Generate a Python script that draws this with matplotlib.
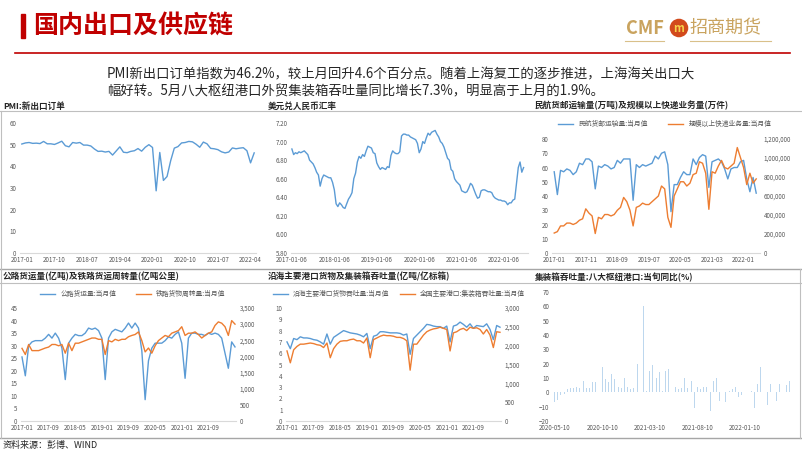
import numpy as np
import matplotlib
matplotlib.use('Agg')
import matplotlib.pyplot as plt
from matplotlib.lines import Line2D
from matplotlib.ticker import FuncFormatter

plt.rcParams['font.family'] = ['Noto Sans CJK SC', 'DejaVu Sans']

BLUE = '#5b9bd5'
ORANGE = '#ed7d31'
TICK = '#595959'

# ---- data ----
# PMI new export orders, monthly 2017-01 .. 2022-05
pmi_ticks = ['2017-01', '2017-10', '2018-07', '2019-04', '2020-01', '2020-10', '2021-07', '2022-04']
pmi = [50.3, 50.8, 51.0, 50.6, 50.7, 50.5, 51.5, 50.4, 50.4, 50.1, 50.8, 51.6,
       49.5, 49.0, 51.0, 50.7, 51.0, 49.8, 49.8, 49.4, 48.0, 46.9, 47.0, 46.6,
       46.9, 45.2, 47.1, 49.0, 46.5, 46.3, 46.9, 47.2, 48.2, 47.0, 48.8, 50.0,
       48.7, 28.7, 46.4, 33.5, 35.3, 42.6, 48.4, 49.1, 50.8, 51.0, 51.5, 51.3,
       50.2, 48.8, 51.2, 50.4, 48.3, 48.1, 47.7, 46.7, 46.2, 46.6, 48.5, 48.1,
       48.4, 48.6, 47.2, 41.6, 46.2]

# USD/CNY, roughly twice a month from 2017-01-06
fx_ticks = ['2017-01-06', '2018-01-06', '2019-01-06', '2020-01-06', '2021-01-06', '2022-01-06']
usdcny = [6.92, 6.86, 6.88, 6.87, 6.89, 6.88, 6.89, 6.90, 6.88, 6.86, 6.80, 6.78,
          6.76, 6.72, 6.67, 6.64, 6.52, 6.60, 6.64, 6.63, 6.62, 6.61, 6.61, 6.56,
          6.48, 6.33, 6.30, 6.34, 6.32, 6.29, 6.28, 6.33, 6.38, 6.41, 6.45, 6.60,
          6.66, 6.78, 6.84, 6.82, 6.86, 6.84, 6.90, 6.95, 6.94, 6.93, 6.88, 6.87,
          6.77, 6.73, 6.70, 6.72, 6.71, 6.70, 6.73, 6.72, 6.85, 6.90, 6.88, 6.87,
          6.87, 6.89, 7.06, 7.08, 7.08, 7.07, 7.07, 7.05, 7.04, 7.03, 7.02, 6.98,
          6.88, 6.92, 7.00, 6.98, 7.04, 7.09, 7.07, 7.10, 7.11, 7.12, 7.08, 7.05,
          7.00, 6.98, 6.94, 6.88, 6.82, 6.80, 6.70, 6.68, 6.60, 6.57, 6.55, 6.53,
          6.47, 6.46, 6.45, 6.46, 6.50, 6.55, 6.53, 6.48, 6.43, 6.39, 6.40, 6.47,
          6.48, 6.48, 6.47, 6.46, 6.46, 6.45, 6.41, 6.39, 6.38, 6.37, 6.37, 6.36,
          6.36, 6.35, 6.32, 6.34, 6.34, 6.37, 6.38, 6.55, 6.72, 6.78, 6.67, 6.72]

# civil aviation cargo (万吨) and express parcels (万件), monthly 2017-01 .. 2022-05
air_ticks = ['2017-01', '2017-11', '2018-09', '2019-07', '2020-05', '2021-03', '2022-01']
air_cargo = [57, 41, 58, 57, 59, 58, 55, 57, 63, 62, 66, 66,
             64, 45, 61, 60, 62, 61, 59, 60, 65, 63, 66, 66,
             66, 37, 62, 60, 62, 61, 62, 63, 68, 66, 70, 71,
             62, 29, 48, 48, 53, 57, 55, 55, 66, 62, 67, 69,
             68, 46, 64, 65, 66, 64, 59, 52, 59, 60, 60, 64,
             65, 52, 43, 53, 42]
express = [210000, 225000, 285000, 285000, 315000, 315000, 300000, 315000, 345000, 360000, 465000, 420000,
           390000, 205000, 375000, 360000, 405000, 405000, 390000, 405000, 450000, 480000, 585000, 540000,
           450000, 285000, 480000, 495000, 525000, 510000, 510000, 540000, 570000, 600000, 705000, 675000,
           375000, 270000, 600000, 675000, 750000, 750000, 705000, 735000, 825000, 840000, 960000, 945000,
           840000, 460000, 855000, 840000, 915000, 975000, 900000, 885000, 915000, 945000, 1110000, 1005000,
           900000, 720000, 840000, 735000, 780000]

# highway freight (亿吨) and rail freight turnover (亿吨公里), monthly 2017-01 .. 2022-05
road_ticks = ['2017-01', '2017-09', '2018-05', '2019-01', '2019-09', '2020-05', '2021-01', '2021-09']
road = [25.5, 18.0, 30.0, 31.5, 32.0, 32.0, 32.0, 33.0, 34.5, 33.0, 35.0, 33.0,
        29.0, 16.5, 31.0, 33.0, 34.5, 34.0, 34.0, 35.0, 37.0, 36.5, 37.0, 36.0,
        33.0, 16.5, 33.0, 35.5, 36.5, 36.0, 35.5, 37.0, 39.0, 37.0, 39.0, 37.0,
        28.0, 8.5, 24.0, 29.0, 31.0, 31.0, 31.0, 32.0, 33.5, 33.0, 34.5, 35.5,
        31.0, 17.0, 33.0, 35.0, 35.0, 34.5, 34.5, 34.0, 35.0, 34.5, 35.0, 34.5,
        33.0, 27.0, 21.0, 31.5, 29.5]
rail = [2250, 2060, 2370, 2180, 2180, 2180, 2220, 2260, 2290, 2370, 2370, 2330,
        2370, 2100, 2410, 2180, 2410, 2410, 2450, 2490, 2530, 2570, 2570, 2530,
        2530, 2060, 2490, 2450, 2530, 2490, 2530, 2530, 2610, 2650, 2680, 2760,
        2490, 2140, 2260, 2100, 2330, 2490, 2570, 2650, 2610, 2720, 2760, 2800,
        2920, 2650, 2720, 2720, 2760, 2680, 2570, 2650, 2720, 2760, 2960, 3070,
        3030, 2920, 2650, 3110, 3000]

# coastal port cargo (亿吨) and container throughput (万标箱), monthly 2017-01 .. 2022-05
port_cargo = [7.0, 6.4, 7.3, 7.2, 7.45, 7.35, 7.35, 7.3, 7.2, 7.15, 7.0, 6.8,
              7.7, 6.8, 7.4, 7.6, 7.8, 8.0, 7.9, 7.8, 7.75, 7.7, 7.6, 7.45,
              7.75, 6.4, 7.5, 7.6, 7.9, 7.9, 7.85, 7.8, 7.8, 7.8, 7.75, 7.6,
              7.7, 5.9, 7.3, 7.6, 7.9, 8.2, 8.55, 8.5, 8.4, 8.35, 8.35, 8.2,
              8.4, 7.0, 8.4, 8.5, 8.75, 8.55, 8.3, 8.6, 8.2, 8.45, 8.4, 8.35,
              8.6, 8.1, 7.2, 8.45, 8.3]
container = [1860, 1545, 1890, 1980, 2040, 2040, 2055, 2070, 2055, 2025, 2010, 1950,
             2070, 1680, 1920, 2040, 2115, 2130, 2130, 2160, 2175, 2130, 2130, 2070,
             2205, 1680, 2160, 2205, 2250, 2280, 2265, 2265, 2250, 2220, 2220, 2190,
             2130, 1350, 2040, 2040, 2160, 2280, 2370, 2415, 2445, 2460, 2490, 2460,
             2430, 1860, 2340, 2370, 2430, 2460, 2400, 2490, 2460, 2475, 2430, 2310,
             2430, 2280, 1950, 2370, 2355]

# eight hub ports container throughput YoY (%), per ten days from 2020-05-10
hub_ticks = ['2020-05-10', '2020-10-10', '2021-03-10', '2021-08-10', '2022-01-10']
hub_yoy = [-7, -5, -2, -1, 2, 3, 3, 4, 3, 8, 3, 3, 7, 7, 4, 18, 9, 7, 13, 9, 4, 3, 10, 4, 2,
           3, 20, 0.5, 60, 1, 15, 19, 10, 14, 1, 15, 16, 13, 4, 2, 3, 10, 3, 8, -11, 4, 2,
           4, 4, -13, 8, 10, -6, 0.5, -7, 1, 2, 4, -3, -2, 3, 0.5, 1, -11, 6, 18, 0.5, -9,
           6, 0.5, -6, 6, 0.5, 5, 8]

W, H = 802, 451
fig = plt.figure(figsize=(W / 100, H / 100), dpi=100)

TS = 4.5   # tick label size
LS = 4.9   # legend size


def box(left, right, top, bottom):
    # pixel box -> figure axes
    return fig.add_axes([left / W, 1 - bottom / H, (right - left) / W, (bottom - top) / H])


def hline(y, x0, x1, color='#bfbfbf', lw=0.8):
    fig.add_artist(Line2D([x0 / W, x1 / W], [1 - y / H, 1 - y / H], color=color, lw=lw))


def vline(x, y0, y1, color='#bfbfbf', lw=0.8):
    fig.add_artist(Line2D([x / W, x / W], [1 - y0 / H, 1 - y1 / H], color=color, lw=lw))


def style(ax, show_bottom=True):
    for s in ['top', 'right', 'left']:
        ax.spines[s].set_visible(False)
    ax.spines['bottom'].set_visible(show_bottom)
    ax.spines['bottom'].set_color('#d9d9d9')
    ax.tick_params(length=0, labelsize=TS, colors=TICK, pad=2.5)
    ax.set_facecolor('none')


def style_twin(ax):
    for s in ax.spines.values():
        s.set_visible(False)
    ax.tick_params(length=0, labelsize=TS, colors=TICK, pad=2.5)


comma = FuncFormatter(lambda v, p: f'{v:,.0f}')

# ---- header ----
fig.add_artist(plt.Rectangle((21 / W, 1 - 38 / H), 4 / W, 24 / H, color='#c00000'))
fig.text(33 / W, 1 - 26 / H, '国内出口及供应链', fontsize=18, fontweight='bold',
         color='#c00000', va='center', ha='left')
fig.text(626 / W, 1 - 28 / H, 'CMF', fontsize=13, fontweight='bold', color='#c9a35e',
         va='center', ha='left')
fig.text(679 / W, 1 - 28 / H, 'm', fontsize=8, fontweight='bold', color='#f6d24a',
         va='center', ha='center', style='italic',
         bbox=dict(boxstyle='circle,pad=0.25', fc='#d24a1c', ec='none'))
fig.text(690 / W, 1 - 28 / H, '招商期货', fontsize=13, color='#c9a35e',
         va='center', ha='left')
hline(41, 625, 664, color='#d9c08a', lw=0.8)
hline(41, 690, 771, color='#d9c08a', lw=0.8)
hline(53, 15, 790, color='#c00000', lw=1.2)

fig.text(107 / W, 1 - 74 / H, 'PMI新出口订单指数为46.2%，较上月回升4.6个百分点。随着上海复工的逐步推进，上海海关出口大',
         fontsize=9.6, color='#262626', va='center', ha='left')
fig.text(107 / W, 1 - 91 / H, '幅好转。5月八大枢纽港口外贸集装箱吞吐量同比增长7.3%，明显高于上月的1.9%。',
         fontsize=9.6, color='#262626', va='center', ha='left')

# ---- frame lines ----
hline(111, 0, 802)
hline(269, 0, 802, color='#a6a6a6', lw=1.0)
hline(283, 0, 802)
hline(438, 0, 802, color='#a6a6a6', lw=1.0)
vline(1, 111, 438)
vline(800, 269, 438)

title_kw = dict(fontsize=6.2, fontweight='bold', color='#262626', va='center', ha='left')
fig.text(3 / W, 1 - 106 / H, 'PMI:新出口订单', **title_kw)
fig.text(268 / W, 1 - 106 / H, '美元兑人民币汇率', **title_kw)
fig.text(535 / W, 1 - 106 / H, '民航货邮运输量(万吨)及规模以上快递业务量(万件)', **title_kw)
fig.text(3 / W, 1 - 277 / H, '公路货运量(亿吨)及铁路货运周转量(亿吨公里)', **title_kw)
fig.text(268 / W, 1 - 277 / H, '沿海主要港口货物及集装箱吞吐量(亿吨/亿标箱)', **title_kw)
fig.text(535 / W, 1 - 277 / H, '集装箱吞吐量:八大枢纽港口:当旬同比(%)', **title_kw)
fig.text(3 / W, 1 - 445 / H, '资料来源：彭博、WIND', fontsize=6.5, color='#262626',
         va='center', ha='left')

# ---- panel 1: PMI ----
ax1 = box(20, 256, 123, 253)
x = np.arange(len(pmi))
ax1.plot(x, pmi, color=BLUE, lw=1.0)
ax1.set_ylim(0, 60)
ax1.set_yticks(range(0, 61, 10))
ax1.set_xlim(-0.5, 64.5)
ax1.set_xticks(range(0, 64, 9))
ax1.set_xticklabels(pmi_ticks)
style(ax1)

# ---- panel 2: USD/CNY ----
ax2 = box(291, 528, 123, 253)
x = np.arange(len(usdcny))
ax2.plot(x, usdcny, color=BLUE, lw=1.0)
ax2.set_ylim(5.8, 7.2)
ax2.set_yticks(np.arange(5.8, 7.21, 0.2))
ax2.yaxis.set_major_formatter(FuncFormatter(lambda v, p: f'{v:.2f}'))
ax2.set_xlim(-0.5, 133.5)
ax2.set_xticks(range(0, 121, 24))
ax2.set_xticklabels(fx_ticks)
style(ax2)

# ---- panel 3: air cargo & express ----
ax3 = box(552, 760, 139, 253)
x = np.arange(len(air_cargo))
l1, = ax3.plot(x, air_cargo, color=BLUE, lw=1.0, label='民航货邮运输量:当月值')
ax3b = ax3.twinx()
l2, = ax3b.plot(x, express, color=ORANGE, lw=1.0, label='规模以上快递业务量:当月值')
ax3.set_ylim(0, 80)
ax3.set_yticks(range(0, 81, 10))
ax3b.set_ylim(0, 1200000)
ax3b.set_yticks(range(0, 1200001, 200000))
ax3b.yaxis.set_major_formatter(comma)
ax3.set_xlim(-0.7, 65.2)
ax3.set_xticks(range(0, 61, 10))
ax3.set_xticklabels(air_ticks)
style(ax3)
style_twin(ax3b)
fig.legend(handles=[l1, l2], loc='center', bbox_to_anchor=(665 / W, 1 - 124 / H), ncol=2,
           frameon=False, fontsize=LS, handlelength=2.2, columnspacing=3.0,
           labelcolor=TICK, borderpad=0)

# ---- panel 4: road & rail ----
ax4 = box(21, 236, 308, 421)
x = np.arange(len(road))
l1, = ax4.plot(x, road, color=BLUE, lw=1.0, label='公路货运量:当月值')
ax4b = ax4.twinx()
l2, = ax4b.plot(x, rail, color=ORANGE, lw=1.0, label='铁路货物周转量:当月值')
ax4.set_ylim(0, 45)
ax4.set_yticks(range(0, 46, 5))
ax4b.set_ylim(0, 3500)
ax4b.set_yticks(range(0, 3501, 500))
ax4b.yaxis.set_major_formatter(comma)
ax4.set_xlim(-0.3, 64.3)
ax4.set_xticks(range(0, 57, 8))
ax4.set_xticklabels(road_ticks)
style(ax4)
style_twin(ax4b)
fig.legend(handles=[l1, l2], loc='center', bbox_to_anchor=(133 / W, 1 - 294 / H), ncol=2,
           frameon=False, fontsize=LS, handlelength=2.2, columnspacing=2.8,
           labelcolor=TICK, borderpad=0)

# ---- panel 5: ports ----
ax5 = box(286, 501, 308, 421)
x = np.arange(len(port_cargo))
l1, = ax5.plot(x, port_cargo, color=BLUE, lw=1.0, label='沿海主要港口货物吞吐量:当月值')
ax5b = ax5.twinx()
l2, = ax5b.plot(x, container, color=ORANGE, lw=1.0, label='全国主要港口:集装箱吞吐量:当月值')
ax5.set_ylim(0, 10)
ax5.set_yticks(range(0, 11, 1))
ax5b.set_ylim(0, 3000)
ax5b.set_yticks(range(0, 3001, 500))
ax5b.yaxis.set_major_formatter(comma)
ax5.set_xlim(-0.3, 64.3)
ax5.set_xticks(range(0, 57, 8))
ax5.set_xticklabels(road_ticks)
style(ax5)
style_twin(ax5b)
fig.legend(handles=[l1, l2], loc='center', bbox_to_anchor=(399 / W, 1 - 294 / H), ncol=2,
           frameon=False, fontsize=LS, handlelength=2.2, columnspacing=1.5,
           labelcolor=TICK, borderpad=0)

# ---- panel 6: hub ports YoY bars ----
ax6 = box(553, 791, 292, 421)
x = np.arange(len(hub_yoy))
ax6.bar(x, hub_yoy, width=0.3, color='#bdd7ee')
ax6.set_ylim(-20, 70)
ax6.set_yticks(range(-20, 71, 10))
ax6.set_xlim(-0.5, 74.5)
ax6.set_xticks(range(0, 61, 15))
ax6.set_xticklabels(hub_ticks)
style(ax6, show_bottom=False)

fig.savefig('out.png', dpi=100)
